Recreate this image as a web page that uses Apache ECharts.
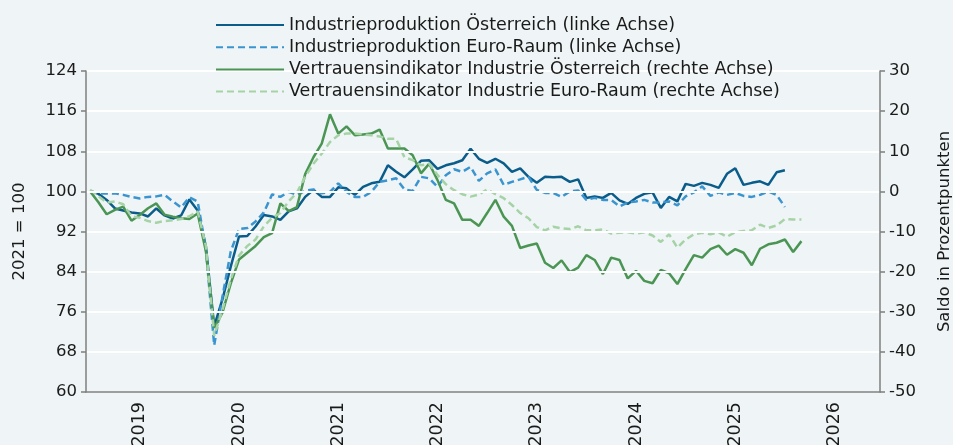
<!DOCTYPE html>
<html>
<head>
<meta charset="utf-8">
<script src="https://cdn.jsdelivr.net/npm/echarts@6/dist/echarts.min.js"></script>
<style>
html, body { margin: 0; padding: 0; background: #eff5f6; }
#chart { width: 953px; height: 445px; }
</style>
</head>
<body>
<div id="chart"></div>
<script>
// year labels and monthly categories
const years = ['2019', '2020', '2021', '2022', '2023', '2024', '2025', '2026'];
const months = [];
years.forEach(y => { for (let m = 1; m <= 12; m++) months.push(y + '-' + String(m).padStart(2, '0')); });

const names = [
  'Industrieproduktion Österreich (linke Achse)',
  'Industrieproduktion Euro-Raum (linke Achse)',
  'Vertrauensindikator Industrie Österreich (rechte Achse)',
  'Vertrauensindikator Industrie Euro-Raum (rechte Achse)'
];

// 2021 = 100, Jan 2019 - Jan 2026
const indProdAT = [
  100.1, 99.5, 98.3, 96.6, 96.2, 95.8, 95.6, 95.0, 96.6, 95.2, 94.6, 95.2,
  98.4, 96.2, 89.0, 73.1, 78.5, 85.0, 91.0, 91.1, 93.0, 95.3, 95.0, 94.3,
  96.0, 96.6, 98.9, 100.3, 98.9, 98.9, 100.8, 100.6, 99.3, 100.9, 101.6, 101.9,
  105.2, 103.9, 102.8, 104.4, 106.1, 106.2, 104.5, 105.2, 105.6, 106.2, 108.5, 106.5,
  105.7, 106.5, 105.6, 103.9, 104.6, 102.9, 101.7, 102.9, 102.8, 102.9, 101.9, 102.4,
  98.7, 99.0, 98.7, 99.7, 98.2, 97.5, 98.7, 99.5, 99.8, 96.7, 98.9, 98.0,
  101.5, 101.1, 101.7, 101.3, 100.7, 103.5, 104.6, 101.3, 101.7, 102.0, 101.3, 103.8,
  104.2
];
const indProdEA = [
  100.0, 99.6, 99.6, 99.6, 99.3, 98.9, 98.6, 98.9, 99.0, 99.3, 98.0, 96.8,
  98.8, 98.0, 88.5, 69.3, 79.0, 88.0, 92.5, 92.7, 94.0, 95.8, 99.4, 98.9,
  99.9, 99.3, 100.1, 100.4, 99.6, 99.9, 101.6, 99.9, 98.9, 98.9, 99.9, 101.9,
  102.2, 102.6, 100.4, 100.1, 102.9, 102.6, 100.9, 103.2, 104.4, 103.9, 104.9, 102.1,
  103.6, 104.4, 101.3, 101.9, 102.4, 102.9, 100.3, 99.7, 99.7, 98.9, 100.0, 100.2,
  98.3, 98.7, 98.3, 98.3, 97.0, 97.8, 98.0, 98.3, 97.8, 97.8, 98.0, 97.2,
  99.0, 99.8, 101.0, 99.1, 99.8, 99.3, 99.7, 99.1, 98.9, 99.3, 100.0, 99.3,
  96.9
];
// Saldo, Jan 2019 - Mar 2026
const vertrauenAT = [
  0.0, -2.7, -5.7, -4.6, -3.8, -7.3, -5.9, -4.2, -3.0, -5.8, -6.3, -6.7,
  -6.9, -5.5, -15.0, -34.0, -30.2, -23.0, -17.0, -15.3, -13.6, -11.4, -10.4, -3.0,
  -4.9, -3.9, 4.3, 8.5, 11.9, 19.2, 14.4, 16.2, 14.0, 14.2, 14.4, 15.4,
  10.7, 10.7, 10.7, 9.0, 4.5, 6.9, 2.8, -2.1, -3.0, -7.1, -7.1, -8.6,
  -5.4, -2.1, -6.3, -8.6, -14.1, -13.5, -13.0, -17.8, -19.1, -17.2, -20.1, -19.0,
  -15.9, -17.1, -20.6, -16.5, -17.1, -21.7, -19.8, -22.3, -22.9, -19.6, -20.4, -23.1,
  -19.4, -15.9, -16.5, -14.4, -13.5, -15.8, -14.4, -15.3, -18.4, -14.3, -13.2, -12.8,
  -12.0, -15.1, -12.4
];
const vertrauenEA = [
  0.4, -1.2, -2.8, -2.5, -3.2, -6.2, -6.6, -7.4, -7.8, -7.4, -7.2, -6.9,
  -6.2, -5.0, -13.6, -36.0, -29.5, -22.0, -16.0, -13.6, -12.0, -8.7, -6.6, -5.4,
  -2.5, -0.3, 3.6, 6.9, 9.4, 12.3, 14.0, 14.4, 14.4, 14.2, 14.0, 13.7,
  13.1, 13.1, 8.5, 7.8, 6.5, 6.9, 4.1, 1.8, 0.3, -0.7, -1.3, -0.8,
  0.5, -0.7, -1.7, -3.4, -5.4, -6.7, -8.9, -9.7, -8.8, -9.2, -9.4, -8.7,
  -9.7, -9.7, -9.5, -10.5, -10.3, -10.2, -10.5, -10.2, -11.0, -12.6, -10.7, -14.0,
  -12.0, -10.7, -10.3, -10.7, -10.2, -11.3, -10.2, -9.9, -9.7, -8.3, -9.1, -8.5,
  -6.9, -7.0, -7.0
];

const font = 'DejaVu Sans';
const txt = '#1a1a1a';
const axisGrey = '#7f7f7f';

const chart = echarts.init(document.getElementById('chart'));

function line(name, data, color, yIdx, dashed) {
  return {
    name: name, type: 'line', data: data, yAxisIndex: yIdx,
    symbol: 'none', smooth: false,
    lineStyle: { color: color, width: 2.5, type: dashed ? [7, 4] : 'solid' },
    itemStyle: { color: color }
  };
}

chart.setOption({
  animation: false,
  backgroundColor: '#eff5f6',
  textStyle: { fontFamily: font },
  legend: {
    orient: 'vertical', left: 210, top: 10,
    itemWidth: 68, itemHeight: 12, itemGap: 2.2,
    itemStyle: { opacity: 0 },
    textStyle: { fontSize: 17.5, color: txt, fontFamily: font, lineHeight: 20 },
    data: names
  },
  grid: { left: 86, right: 73, top: 71, bottom: 53, outerBoundsMode: 'none' },
  xAxis: {
    type: 'category', data: months, boundaryGap: true, z: 5,
    axisLine: { onZero: false, lineStyle: { color: axisGrey, width: 1.5 } },
    axisTick: { interval: (i) => i % 12 === 0, length: 6, lineStyle: { color: axisGrey, width: 1.5 } },
    axisLabel: {
      interval: (i) => i % 12 === 6,
      rotate: 90, margin: 10, fontSize: 17.5, color: txt, fontFamily: font,
      formatter: v => v.slice(0, 4)
    },
    splitLine: { show: false }
  },
  yAxis: [
    {
      type: 'value', min: 60, max: 124, interval: 8, z: 4,
      name: '2021 = 100', nameLocation: 'middle', nameRotate: 90, nameGap: 58,
      nameTextStyle: { fontSize: 16.5, color: txt, fontFamily: font },
      axisLine: { show: true, lineStyle: { color: axisGrey, width: 1.5 } },
      axisTick: { show: true, length: 5, lineStyle: { color: axisGrey, width: 1.5 } },
      axisLabel: { fontSize: 16.5, color: txt, margin: 9, fontFamily: font },
      splitLine: { show: true, lineStyle: { color: '#ffffff', width: 2 } }
    },
    {
      type: 'value', min: -50, max: 30, interval: 10, position: 'right', z: 4,
      name: 'Saldo in Prozentpunkten', nameLocation: 'middle', nameRotate: 90, nameGap: 56,
      nameTextStyle: { fontSize: 16.5, color: txt, fontFamily: font },
      axisLine: { show: true, lineStyle: { color: axisGrey, width: 1.5 } },
      axisTick: { show: true, length: 5, lineStyle: { color: axisGrey, width: 1.5 } },
      axisLabel: { fontSize: 16.5, color: txt, margin: 9, fontFamily: font },
      splitLine: { show: false }
    }
  ],
  series: [
    line(names[0], indProdAT, '#0a5c8a', 0, false),
    line(names[1], indProdEA, '#3a94d0', 0, true),
    line(names[2], vertrauenAT, '#4b9554', 1, false),
    line(names[3], vertrauenEA, '#a6d3a6', 1, true)
  ]
});
</script>
</body>
</html>
